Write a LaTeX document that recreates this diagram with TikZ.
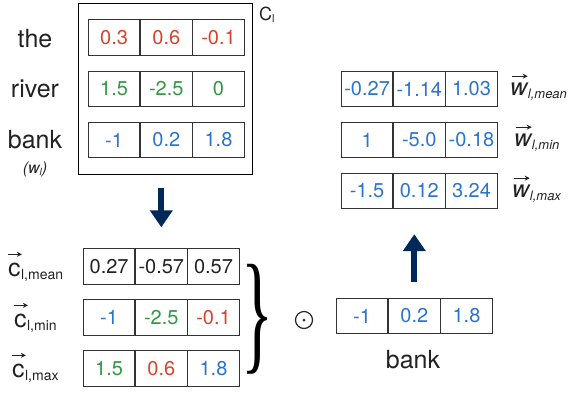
\documentclass[tikz,border=0pt]{standalone}
\usepackage{fontspec}
\setmainfont{TeX Gyre Heros}
\newfontfamily\bracefont{Liberation Serif}
\usepackage{graphicx}
\usetikzlibrary{arrows.meta,calc}
\definecolor{cred}{HTML}{D9432E}
\definecolor{cgreen}{HTML}{2E9A40}
\definecolor{cblue}{HTML}{2B74CC}
\definecolor{cnavy}{HTML}{00285A}
\definecolor{ctext}{HTML}{222222}
\newcommand\vrow[9]{%
  \node[cell,text=#4] (#1-1) at (#2,#3) {#5};
  \node[cell,text=#6] (#1-2) at (#1-1.east) {#7};
  \node[cell,text=#8] (#1-3) at (#1-2.east) {#9};}
\begin{document}
\begin{tikzpicture}[x=1pt,y=-1pt,
  cell/.style={draw=black!80, line width=0.9pt, minimum width=51.3pt, minimum height=35.5pt,
    inner sep=0pt, anchor=west, font=\fontsize{20}{20}\selectfont},
  word/.style={text=ctext, anchor=base, inner sep=0pt, font=\fontsize{25}{25}\selectfont},
  letter/.style={text=ctext, anchor=base west, inner sep=0pt, font=\fontsize{25}{25}\selectfont},
  subs/.style={text=ctext, anchor=base west, inner sep=0pt, font=\fontsize{14}{14}\selectfont},
  wletter/.style={letter, font=\fontsize{24}{24}\selectfont\itshape},
  wsubs/.style={subs, font=\fontsize{13}{13}\selectfont\itshape},
  vecarr/.style={draw=ctext, line width=1.1pt, -{Stealth[length=5pt,width=5pt]}},
  bigarrow/.style={draw=cnavy, line width=6pt, -{Triangle[width=22pt,length=17pt]}}]
\useasboundingbox (0,0) rectangle (570,392);
% big box C_l
\node[draw=black, line width=1.3pt, minimum width=174pt, minimum height=171pt, inner sep=0pt, anchor=north west] (Cl) at (78,3) {};
\node[anchor=base west, inner sep=0pt, text=ctext] (Cllab) at (259,20) {\fontsize{18}{18}\selectfont C\raisebox{-2pt}{\fontsize{11}{11}\selectfont l}};
% words
\node[word] (wthe) at (35,47) {the};
\node[word] (wriver) at (35,97) {river};
\node[word] (wbank) at (35,148) {bank};
\node[anchor=base, inner sep=0pt, text=ctext, font=\fontsize{16}{16}\selectfont\itshape] (wl) at (35,173) {(w\raisebox{-2pt}{\fontsize{10}{10}\selectfont l})};
% rows in C_l
\vrow{the}{88}{37.5}{cred}{0.3}{cred}{0.6}{cred}{-0.1}
\vrow{river}{88}{89}{cgreen}{1.5}{cgreen}{-2.5}{cgreen}{0}
\vrow{bank}{88}{140}{cblue}{-1}{cblue}{0.2}{cblue}{1.8}
% pooled rows
\vrow{mean}{83}{266.5}{ctext}{0.27}{ctext}{-0.57}{ctext}{0.57}
\vrow{min}{83}{317.5}{cblue}{-1}{cgreen}{-2.5}{cred}{-0.1}
\vrow{max}{83}{368.5}{cgreen}{1.5}{cred}{0.6}{cblue}{1.8}
% right rows
\vrow{wmean}{341}{89}{cblue}{-0.27}{cblue}{-1.14}{cblue}{1.03}
\vrow{wmin}{341}{140}{cblue}{1}{cblue}{-5.0}{cblue}{-0.18}
\vrow{wmax}{341}{191}{cblue}{-1.5}{cblue}{0.12}{cblue}{3.24}
% bank vector
\vrow{bankv}{336}{316}{cblue}{-1}{cblue}{0.2}{cblue}{1.8}
\node[word] (bankword) at (413,368) {bank};
% c labels
\node[letter] (cmean) at (8,276) {c};
\node[subs] (cmeans) at ($(cmean.base east)+(0,3)$) {l,mean};
\draw[vecarr] ($(cmean.north west)+(0,-8)$) -- ($(cmean.north east)+(1,-8)$);
\node[letter] (cmin) at (14,327) {c};
\node[subs] (cmins) at ($(cmin.base east)+(0,3)$) {l,min};
\draw[vecarr] ($(cmin.north west)+(0,-8)$) -- ($(cmin.north east)+(1,-8)$);
\node[letter] (cmax) at (12,377) {c};
\node[subs] (cmaxs) at ($(cmax.base east)+(0,3)$) {l,max};
\draw[vecarr] ($(cmax.north west)+(0,-8)$) -- ($(cmax.north east)+(1,-8)$);
% w labels
\node[wletter] (wmeanl) at (510,95) {w};
\node[wsubs] (wmeanls) at ($(wmeanl.base east)+(0,3)$) {l,mean};
\draw[vecarr] ($(wmeanl.north west)+(2,-6)$) -- ($(wmeanl.north east)+(0,-6)$);
\node[wletter] (wminl) at (514,146) {w};
\node[wsubs] (wminls) at ($(wminl.base east)+(0,3)$) {l,min};
\draw[vecarr] ($(wminl.north west)+(2,-6)$) -- ($(wminl.north east)+(0,-6)$);
\node[wletter] (wmaxl) at (512,197) {w};
\node[wsubs] (wmaxls) at ($(wmaxl.base east)+(0,3)$) {l,max};
\draw[vecarr] ($(wmaxl.north west)+(2,-6)$) -- ($(wmaxl.north east)+(0,-6)$);
% brace and odot
\node[inner sep=0pt, text=black] (brace) at (257.5,319) {\resizebox*{32pt}{110pt}{\bracefont\}}};
\node[circle, draw=ctext, line width=1.2pt, minimum size=17pt, inner sep=0pt] (odot) at (304,320) {};
\fill[ctext] (odot.center) circle (1.5pt);
% arrows
\draw[bigarrow, shorten <=13pt, shorten >=21pt] (Cl.south -| mean-2.north) -- (mean-2.north);
\draw[bigarrow, shorten <=16pt, shorten >=25pt] (bankv-2.north) -- (bankv-2.north |- wmax-2.south);
\end{tikzpicture}
\end{document}
